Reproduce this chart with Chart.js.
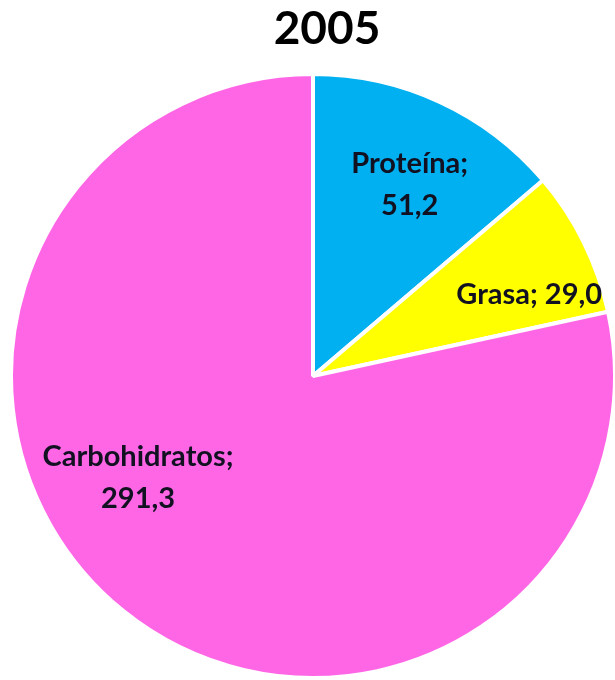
<!DOCTYPE html>
<html>
<head>
<meta charset="utf-8">
<script src="https://cdn.jsdelivr.net/npm/chart.js@4"></script>
<style>
  html, body { margin: 0; padding: 0; background: #fff; }
  #wrap { width: 615px; height: 680px; }
</style>
</head>
<body>
<div id="wrap"><canvas id="pie"></canvas></div>
<script>
// data
var titleText = '2005';
var categories = ['Proteína', 'Grasa', 'Carbohidratos'];
var values = [51.2, 29.0, 291.3];
var colors = ['#00B0F0', '#FFFF00', '#FF66E6'];

function fmt(v) {
    return v.toFixed(1).replace('.', ',');
}

// label placement: radius fraction, angle shift (deg), split into two lines?
var labelPlace = [
    { r: 0.71, shift: 2, lines: true },
    { r: 0.765, shift: 5.7, lines: false },
    { r: 0.67, shift: 21, lines: true }
];

var pieLabels = {
    id: 'pieLabels',
    afterDatasetsDraw: function(chart) {
        var ctx = chart.ctx;
        var meta = chart.getDatasetMeta(0);
        ctx.save();
        ctx.font = 'bold 29px Lato';
        ctx.fillStyle = '#111122';
        ctx.textAlign = 'center';
        ctx.textBaseline = 'middle';
        meta.data.forEach(function(arc, i) {
            var p = arc.getProps(['x', 'y', 'startAngle', 'endAngle', 'outerRadius']);
            var mid = (p.startAngle + p.endAngle) / 2 + labelPlace[i].shift * Math.PI / 180;
            var rr = p.outerRadius * labelPlace[i].r;
            var x = p.x + Math.cos(mid) * rr;
            var y = p.y + Math.sin(mid) * rr;
            var name = categories[i] + ';';
            var val = fmt(values[i]);
            if (labelPlace[i].lines) {
                ctx.fillText(name, x, y - 21);
                ctx.fillText(val, x, y + 21);
            } else {
                ctx.fillText(name + ' ' + val, x, y);
            }
        });
        ctx.restore();
    }
};

var titlePlugin = {
    id: 'titlePlugin',
    afterDraw: function(chart) {
        var ctx = chart.ctx;
        ctx.save();
        ctx.font = 'bold 46px Lato';
        ctx.fillStyle = '#000';
        ctx.textAlign = 'center';
        ctx.textBaseline = 'middle';
        ctx.fillText(titleText, 327, 29);
        ctx.restore();
    }
};

var chart = new Chart(document.getElementById('pie'), {
    type: 'pie',
    data: {
        labels: categories,
        datasets: [{
            data: values,
            backgroundColor: colors,
            borderColor: '#ffffff',
            borderWidth: 4,
            hoverOffset: 0
        }]
    },
    options: {
        responsive: true,
        maintainAspectRatio: false,
        animation: false,
        radius: 302,
        layout: { padding: { top: 72, left: 11, right: 0, bottom: 0 } },
        plugins: {
            legend: { display: false },
            tooltip: { enabled: false },
            title: { display: false }
        }
    },
    plugins: [pieLabels, titlePlugin]
});
</script>
</body>
</html>
